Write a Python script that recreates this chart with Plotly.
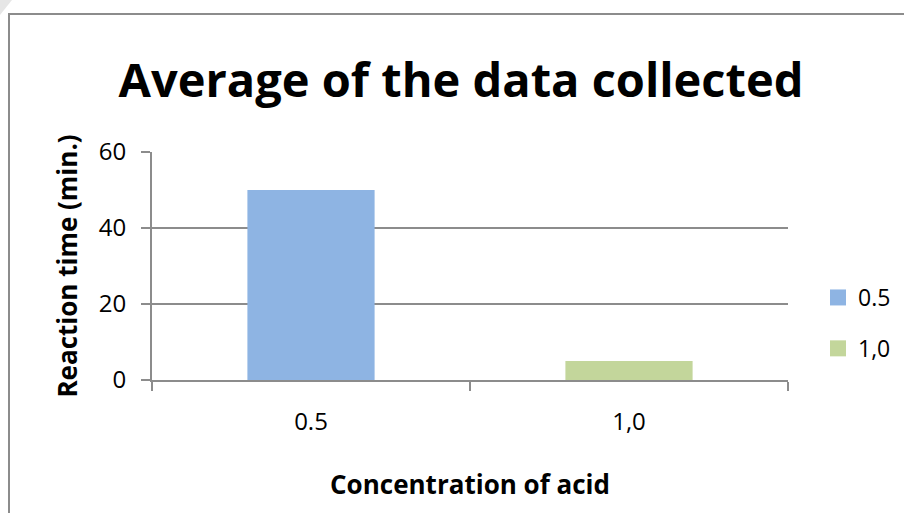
import plotly.graph_objects as go

categories = ["0.5", "1,0"]
values = [50, 5]
series_names = ["0.5", "1,0"]
colors = ["#8EB4E3", "#C3D69B"]
y_ticks = [0, 20, 40, 60]

FONT = "Open Sans"
GRID = "#8C8C8C"

fig = go.Figure()
for cat, val, name, col in zip(categories, values, series_names, colors):
    fig.add_trace(go.Bar(
        x=[cat], y=[val], name=name, marker_color=col, width=0.4,
        legendgroup=name, marker_line_width=0, showlegend=False,
    ))
# legend entries with larger square swatches
for name, col in zip(series_names, colors):
    fig.add_trace(go.Scatter(
        x=[None], y=[None], mode="markers", name=name, legendgroup=name,
        marker=dict(symbol="square", size=17, color=col), showlegend=True,
    ))

L, R, T, B = 152, 116, 152, 133
W, H = 904, 513
pw, ph = W - L - R, H - T - B

def px_x(p):
    return (p - L) / pw

def px_y(p):
    return (H - B - p) / ph

fig.update_layout(
    width=W, height=H,
    margin=dict(l=L, r=R, t=T, b=B, autoexpand=False),
    paper_bgcolor="white", plot_bgcolor="white",
    barmode="overlay",
    font=dict(family=FONT, color="#000000", size=20),
    title=dict(text="<b>Average of the data collected</b>", x=461 / W, xanchor="center",
               y=1 - 81 / H, yanchor="middle", font=dict(size=47, family=FONT)),
    showlegend=True,
    legend=dict(x=px_x(818), xanchor="left", y=px_y(276), yanchor="top",
                traceorder="grouped", tracegroupgap=18,
                font=dict(size=23, family=FONT), bgcolor="rgba(0,0,0,0)",
                itemwidth=30),
    xaxis=dict(
        type="category", showline=True, linecolor=GRID, linewidth=2,
        ticks="outside", tickson="boundaries", ticklen=9, tickcolor=GRID, tickwidth=2,
        tickfont=dict(size=24), ticklabelstandoff=19,
        title=dict(text="<b>Concentration of acid</b>", font=dict(size=26), standoff=40),
        showgrid=False, zeroline=False,
    ),
    yaxis=dict(
        range=[0, 60], tickvals=y_ticks, showline=True, linecolor=GRID, linewidth=2,
        ticks="outside", ticklen=9, tickcolor=GRID, tickwidth=2,
        tickfont=dict(size=24), ticklabelstandoff=10,
        showgrid=True, gridcolor=GRID, gridwidth=2, zeroline=False,
        title=dict(text="<b>Reaction time (min.)</b>", font=dict(size=26), standoff=14),
    ),
    shapes=[
        dict(type="rect", xref="paper", yref="paper",
             x0=px_x(9), x1=px_x(W + 20), y0=px_y(H + 20), y1=px_y(14),
             line=dict(color="#8C8C8C", width=2), fillcolor="rgba(0,0,0,0)", layer="below"),
        dict(type="path", xref="paper", yref="paper",
             path=f"M {px_x(0)},{px_y(0)} L {px_x(12)},{px_y(0)} L {px_x(0)},{px_y(15)} Z",
             line=dict(width=0), fillcolor="#E6E6E6", layer="below"),
    ],
)

fig.write_html("out.html", config={"displayModeBar": False},
               post_script="document.body.style.margin='0';document.body.style.overflow='hidden';")
